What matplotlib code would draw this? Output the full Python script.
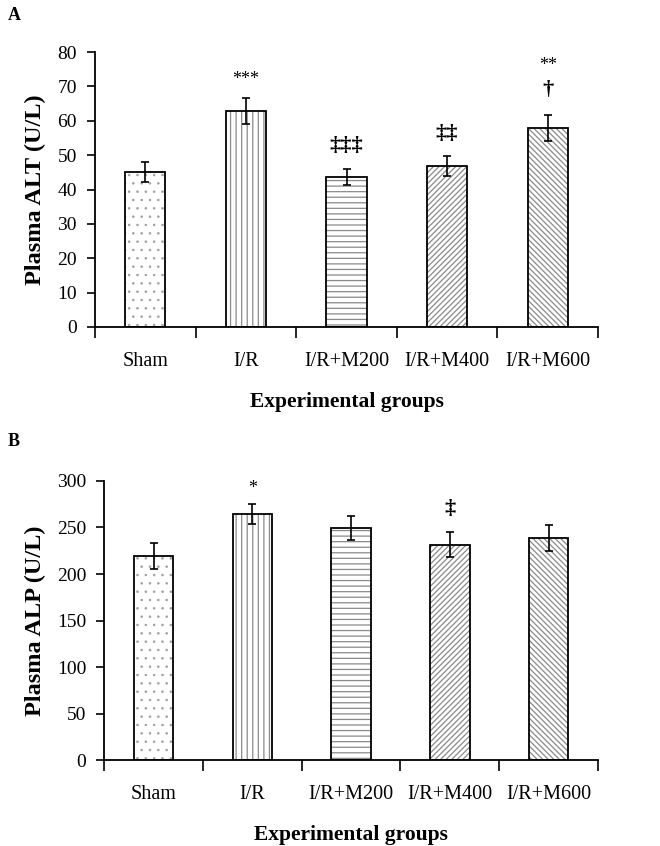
import numpy as np
import matplotlib
matplotlib.use("Agg")
import matplotlib.pyplot as plt

plt.rcParams['font.family'] = ['Liberation Serif', 'DejaVu Serif']

# data
groups = ['Sham', 'I/R', 'I/R+M200', 'I/R+M400', 'I/R+M600']
alt_mean = [45.1, 62.8, 43.6, 46.8, 57.8]
alt_err = [3.0, 3.8, 2.4, 2.9, 3.8]
alt_marks = ['', '***', '‡‡‡', '‡‡', '**\n†']
alp_mean = [219, 264.7, 249.5, 231.5, 239]
alp_err = [14, 11, 12.5, 13.7, 14]
alp_marks = ['', '*', '', '‡', '']
hatches = ['..', '|||', '---', '//////', '\\\\\\\\\\\\']
hatch_colors = ['#a0a0a0', '#8a8a8a', '#8a8a8a', '#8a8a8a', '#8a8a8a']
hatch_widths = [0.6, 0.9, 0.9, 0.9, 0.9]


def mark(ax, text, xy, off, big):
    if big:
        ax.annotate(text, xy, xytext=(0, off), textcoords='offset points',
                    ha='center', va='bottom', fontsize=16, fontweight='bold')
    else:
        ax.annotate(text, xy, xytext=(0, off), textcoords='offset points',
                    ha='center', va='bottom', fontsize=13)


def panel(ax, means, errs, marks, ymax, ystep, ylabel):
    x = np.arange(len(groups))
    # hatch in grey, outline in black
    for xi, m, h, hc, hw in zip(x, means, hatches, hatch_colors, hatch_widths):
        with plt.rc_context({'hatch.linewidth': hw}):
            ax.bar(xi, m, width=0.4, color='white', edgecolor=hc,
                   hatch=h, linewidth=0, zorder=2)
    ax.bar(x, means, width=0.4, fill=False, edgecolor='black',
           linewidth=1.3, zorder=3)
    ax.errorbar(x, means, yerr=errs, fmt='none', ecolor='black',
                elinewidth=1.2, capsize=3, capthick=1.2, zorder=4)
    for xi, m, e, s in zip(x, means, errs, marks):
        if not s:
            continue
        top = (xi, m + e)
        if '\n' in s:
            stars, dag = s.split('\n')
            mark(ax, dag, top, 11, True)
            mark(ax, stars, top, 30, False)
        elif s.startswith('*'):
            mark(ax, s, top, 7 if len(s) > 1 else 5, False)
        else:
            mark(ax, s, top, 9, True)

    ax.set_xlim(-0.5, len(groups) - 0.5)
    ax.set_ylim(0, ymax)
    ax.set_yticks(np.arange(0, ymax + 1, ystep))
    ax.set_xticks(np.arange(-0.5, len(groups)))
    ax.set_xticklabels([])
    ax.set_xticks(x, minor=True)
    ax.set_xticklabels(groups, minor=True)
    ax.tick_params(axis='x', which='major', length=8, width=1.2, direction='out')
    ax.tick_params(axis='x', which='minor', length=0, pad=18, labelsize=14.5)
    ax.tick_params(axis='y', length=6, width=1.2, direction='out', labelsize=14, pad=7)
    for side in ['top', 'right']:
        ax.spines[side].set_visible(False)
    for side in ['left', 'bottom']:
        ax.spines[side].set_linewidth(1.3)
    ax.set_xlabel('Experimental groups', fontsize=15.5, fontweight='bold', labelpad=15)
    ax.set_ylabel(ylabel, fontsize=17.5, fontweight='bold', labelpad=8)


fig = plt.figure(figsize=(6.6, 8.46), dpi=100)
ax1 = fig.add_axes([0.144, 0.6135, 0.762, 0.325])
ax2 = fig.add_axes([0.158, 0.1015, 0.748, 0.33])

panel(ax1, alt_mean, alt_err, alt_marks, 80, 10, 'Plasma ALT (U/L)')
panel(ax2, alp_mean, alp_err, alp_marks, 300, 50, 'Plasma ALP (U/L)')

fig.text(0.012, 0.992, 'A', fontsize=13, fontweight='bold', va='top')
fig.text(0.012, 0.488, 'B', fontsize=13, fontweight='bold', va='top')

fig.savefig('out.png', dpi=100)
